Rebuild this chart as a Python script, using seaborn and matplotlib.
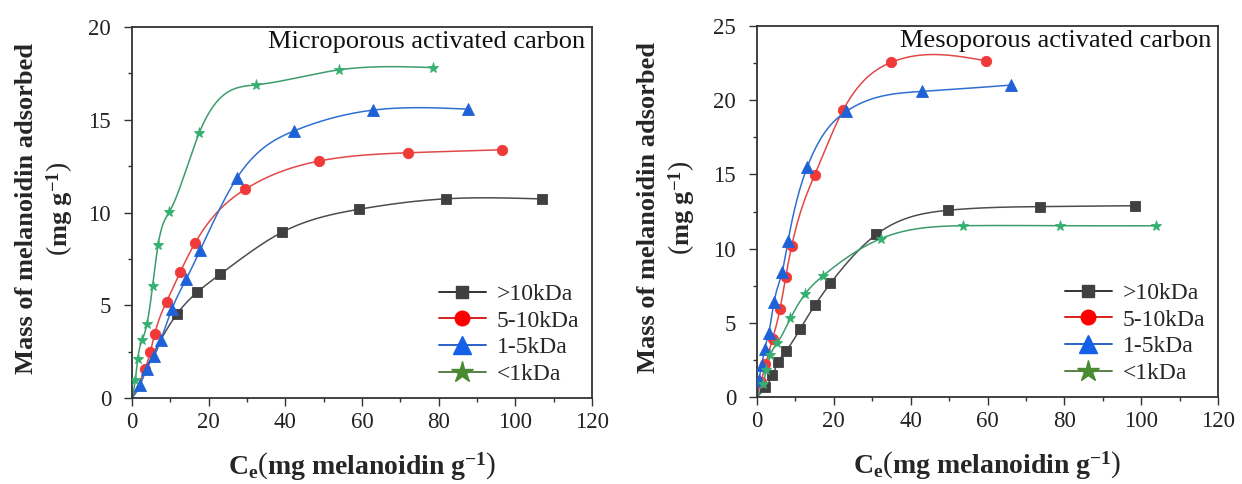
import numpy as np
import pandas as pd
import matplotlib
matplotlib.use("Agg")
import matplotlib.pyplot as plt
from matplotlib.lines import Line2D
import seaborn as sns

sns.set_style("white")
plt.rcParams['font.family'] = ['Liberation Serif', 'DejaVu Serif']
plt.rcParams['mathtext.fontset'] = 'custom'
plt.rcParams['mathtext.rm'] = 'Liberation Serif'
plt.rcParams['mathtext.it'] = 'Liberation Serif:italic'
plt.rcParams['mathtext.bf'] = 'Liberation Serif:bold'

# ---------------- data ----------------
series_names = [">10kDa", "5-10kDa", "1-5kDa", "<1kDa"]

# Microporous activated carbon
micro_gt10_x = [0, 11.7, 17.0, 23.0, 39.1, 59.1, 82.0, 107.0]
micro_gt10_y = [0, 4.52, 5.70, 6.67, 8.93, 10.17, 10.74, 10.73]
micro_5_10_x = [0, 3.47, 4.77, 5.90, 9.03, 12.6, 16.4, 29.6, 48.7, 72.1, 96.5]
micro_5_10_y = [0, 1.58, 2.48, 3.44, 5.20, 6.80, 8.34, 11.26, 12.77, 13.22, 13.38]
micro_1_5_x = [0, 2.17, 3.81, 5.82, 7.46, 10.43, 14.17, 17.8, 27.3, 42.3, 62.9, 87.7]
micro_1_5_y = [0, 0.72, 1.58, 2.28, 3.10, 4.81, 6.42, 7.98, 11.84, 14.40, 15.52, 15.57]
micro_lt1_x = [0, 0.87, 1.48, 2.61, 3.91, 5.39, 6.78, 9.74, 17.57, 32.3, 54.0, 78.6]
micro_lt1_y = [0, 0.99, 2.10, 3.10, 4.00, 6.06, 8.23, 10.03, 14.31, 16.88, 17.69, 17.81]

# Mesoporous activated carbon
meso_gt10_x = [0, 2.17, 4.0, 5.48, 7.48, 11.3, 15.13, 19.1, 31.1, 49.7, 73.7, 98.5]
meso_gt10_y = [0, 0.65, 1.46, 2.34, 3.08, 4.61, 6.21, 7.65, 10.96, 12.58, 12.83, 12.89]
meso_5_10_x = [0, 1.0, 2.2, 4.09, 6.0, 7.48, 9.04, 15.04, 22.5, 34.9, 59.5]
meso_5_10_y = [0, 1.0, 2.2, 3.94, 5.94, 8.10, 10.19, 14.99, 19.37, 22.55, 22.66]
meso_1_5_x = [0, 0.52, 1.22, 2.0, 3.04, 4.43, 6.52, 8.09, 13.13, 23.2, 42.9, 66.2]
meso_1_5_y = [0, 1.13, 2.18, 3.26, 4.28, 6.41, 8.39, 10.53, 15.53, 19.24, 20.59, 21.02]
meso_lt1_x = [0, 1.57, 2.43, 3.48, 5.3, 8.7, 12.43, 17.2, 32.2, 53.7, 79.0, 103.9]
meso_lt1_y = [0, 0.90, 1.80, 2.81, 3.65, 5.29, 6.91, 8.17, 10.67, 11.54, 11.54, 11.54]

panel_titles = ["Microporous activated carbon", "Mesoporous activated carbon"]
x_ticks = [0, 20, 40, 60, 80, 100, 120]
y_ticks_micro = [0, 5, 10, 15, 20]
y_ticks_meso = [0, 5, 10, 15, 20, 25]

# ---------------- styles ----------------
styles = {
    ">10kDa":  dict(marker="s", mfc="#404040", lc="#4d4d4d", ms=6.5, lg_ms=8.5, lg_mfc="#404040", lg_lc="#333333"),
    "5-10kDa": dict(marker="o", mfc="#f03a3a", lc="#e24848", ms=7.5, lg_ms=10.5, lg_mfc="#ff0000", lg_lc="#d62020"),
    "1-5kDa":  dict(marker="^", mfc="#1f62d8", lc="#2f6fd2", ms=8.0, lg_ms=12.5, lg_mfc="#1560e8", lg_lc="#2a62c8"),
    "<1kDa":   dict(marker="*", mfc="#35b070", lc="#3d9c6c", ms=8.0, lg_ms=16.0, lg_mfc="#4a8a30", lg_lc="#5a7f48"),
}


def natural_spline(x, y, n=500):
    x = np.asarray(x, float)
    y = np.asarray(y, float)
    m = len(x)
    h = np.diff(x)
    A = np.zeros((m, m))
    b = np.zeros(m)
    A[0, 0] = 1
    A[-1, -1] = 1
    for i in range(1, m - 1):
        A[i, i - 1] = h[i - 1]
        A[i, i] = 2 * (h[i - 1] + h[i])
        A[i, i + 1] = h[i]
        b[i] = 6 * ((y[i + 1] - y[i]) / h[i] - (y[i] - y[i - 1]) / h[i - 1])
    M = np.linalg.solve(A, b)
    xs = np.linspace(x[0], x[-1], n)
    idx = np.clip(np.searchsorted(x, xs) - 1, 0, m - 2)
    x0, x1 = x[idx], x[idx + 1]
    hh = x1 - x0
    t0 = x1 - xs
    t1 = xs - x0
    ys = (M[idx] * t0 ** 3 + M[idx + 1] * t1 ** 3) / (6 * hh) \
        + (y[idx] / hh - M[idx] * hh / 6) * t0 \
        + (y[idx + 1] / hh - M[idx + 1] * hh / 6) * t1
    return xs, ys


fig = plt.figure(figsize=(12.42, 4.84), dpi=100)
ax1 = fig.add_axes([132 / 1242, 1 - 398 / 484, 460 / 1242, 371 / 484])
ax2 = fig.add_axes([757 / 1242, 1 - 397 / 484, 461 / 1242, 371 / 484])

panels = [
    (ax1, [(micro_gt10_x, micro_gt10_y), (micro_5_10_x, micro_5_10_y),
           (micro_1_5_x, micro_1_5_y), (micro_lt1_x, micro_lt1_y)], 20, y_ticks_micro, -0.124),
    (ax2, [(meso_gt10_x, meso_gt10_y), (meso_5_10_x, meso_5_10_y),
           (meso_1_5_x, meso_1_5_y), (meso_lt1_x, meso_lt1_y)], 25, y_ticks_meso, -0.130),
]

for k, (ax, data, ymax, yt, ylx) in enumerate(panels):
    for name, (xv, yv) in zip(series_names, data):
        st = styles[name]
        xs, ys = natural_spline(xv, yv)
        sns.lineplot(x=xs, y=ys, sort=False, estimator=None, color=st["lc"],
                     lw=1.1, ax=ax, zorder=2)
        df = pd.DataFrame({"x": xv[1:], "y": yv[1:]})
        ax.plot(df["x"], df["y"], ls="none", marker=st["marker"], ms=st["ms"],
                mfc=st["mfc"], mec=st["mfc"], mew=0.6, zorder=3)
    ax.set_xlim(0, 120)
    ax.set_ylim(0, ymax)
    ax.set_xticks(x_ticks)
    ax.set_yticks(yt)
    ax.set_xticks(np.arange(10, 120, 20), minor=True)
    ax.set_yticks(np.arange(2.5, ymax, 5), minor=True)
    ax.tick_params(axis="both", which="major", direction="out", length=6, width=1.0,
                   labelsize=16.5, color="#333333", labelcolor="#222222")
    ax.tick_params(axis="y", which="major", pad=9)
    ax.tick_params(axis="x", which="major", pad=4)
    ax.tick_params(axis="both", which="minor", direction="out", length=3, width=1.0,
                   color="#333333")
    ax.tick_params(top=False, right=False, bottom=True, left=True)
    ax.tick_params(which="minor", top=False, right=False, bottom=True, left=True)
    for sp in ax.spines.values():
        sp.set_visible(True)
        sp.set_color("#333333")
        sp.set_linewidth(1.3)
    ax.text(0.985, 0.99, panel_titles[k], transform=ax.transAxes, ha="right", va="top",
            fontsize=19, color="#111111")
    ax.set_xlabel(r"$\mathbf{C_e}\left(\mathbf{mg\ melanoidin\ g^{-1}}\right)$",
                  fontsize=20)
    ax.xaxis.set_label_coords(0.5, -0.143)
    ax.set_ylabel("Mass of melanoidin adsorbed\n" + r"$\left(\mathbf{mg\ g^{-1}}\right)$",
                  fontsize=19, fontweight="bold", linespacing=1.25)
    ax.yaxis.set_label_coords(ylx, 0.51)
    handles = [Line2D([0], [0], color=styles[n]["lg_lc"], lw=1.4, marker=styles[n]["marker"],
                      ms=styles[n]["lg_ms"], mfc=styles[n]["lg_mfc"], mec=styles[n]["lg_mfc"])
               for n in series_names]
    ax.legend(handles, series_names, loc="lower right", bbox_to_anchor=(1.0, 0.0),
              frameon=False, fontsize=17, handlelength=2.0, handletextpad=0.45,
              labelspacing=0.22, borderaxespad=0.15)

fig.savefig("out.png", dpi=100)
